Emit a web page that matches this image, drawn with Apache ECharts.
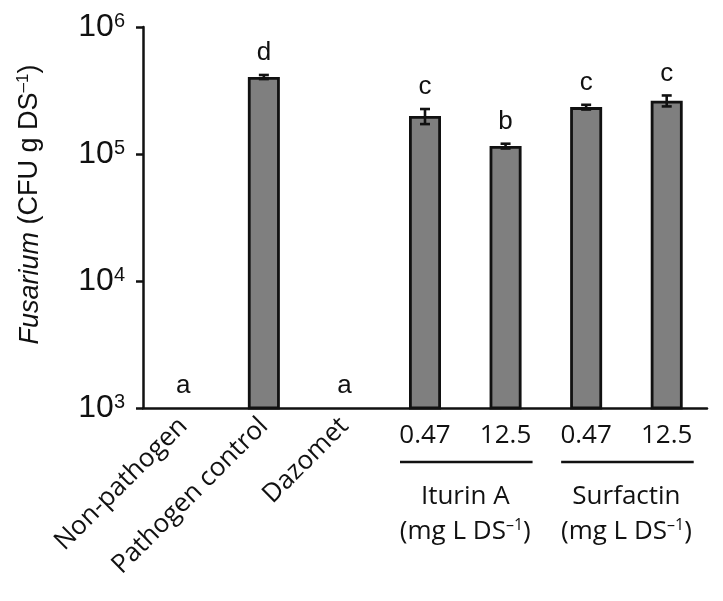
<!DOCTYPE html>
<html><head><meta charset="utf-8">
<script src="https://cdn.jsdelivr.net/npm/echarts@6/dist/echarts.min.js"></script>
<style>html,body{margin:0;padding:0;background:#fff}#c{width:723px;height:601px}</style>
</head><body><div id="c"></div>
<script>
// ---- data ----
const categories = ['Non-pathogen', 'Pathogen control', 'Dazomet', 'Iturin A 0.47', 'Iturin A 12.5', 'Surfactin 0.47', 'Surfactin 12.5'];
const rotatedLabels = ['Non-pathogen', 'Pathogen control', 'Dazomet', '', '', '', ''];
const doseLabels = ['', '', '', '0.47', '12.5', '0.47', '12.5'];
const means = [null, 404000, null, 199000, 115500, 234000, 263000];
const errors = [null, 15000, null, 27000, 5000, 10000, 26000];
const letters = ['a', 'd', 'a', 'c', 'b', 'c', 'c'];
const groupNames = ['Iturin A', 'Surfactin'];
const groupFirst = [3, 5];
const groupLast = [4, 6];
const yMin = 1e3, yMax = 1e6;

const SANS = 'Liberation Sans';
const CAL = 'Open Sans';
const INK = '#111111';

const chart = echarts.init(document.getElementById('c'), null, {renderer: 'canvas'});

const errData = [];
means.forEach((m, i) => { if (m != null) errData.push([i, m, errors[i]]); });
const letterData = letters.map((l, i) => [i, means[i] == null ? yMin : means[i] + errors[i]]);

const option = {
  animation: false,
  backgroundColor: '#fff',
  grid: {left: 143, right: 16, top: 27, bottom: 193},
  xAxis: [{
    type: 'category', data: categories,
    axisLine: {lineStyle: {color: INK, width: 2.5}},
    axisTick: {show: false},
    axisLabel: {rotate: 45, margin: 14, interval: 0, formatter: (v, i) => rotatedLabels[i],
      fontFamily: CAL, fontSize: 26, color: INK}
  }, {
    type: 'category', data: categories, position: 'bottom',
    axisLine: {show: false}, axisTick: {show: false}, splitLine: {show: false},
    axisLabel: {interval: 0, margin: 15, formatter: (v, i) => doseLabels[i],
      fontFamily: CAL, fontSize: 26, color: INK}
  }],
  yAxis: {
    type: 'log', logBase: 10, min: yMin, max: yMax,
    splitLine: {show: false},
    axisLine: {show: true, lineStyle: {color: INK, width: 2.5}},
    axisTick: {show: true, length: 7, lineStyle: {width: 2.5, color: INK}},
    minorTick: {show: false},
    axisLabel: {
      margin: 18,
      fontSize: 32, fontFamily: SANS, color: INK, lineHeight: 32,
      formatter: v => '10{s|' + Math.round(Math.log10(v)) + '}',
      rich: {
        s: {fontSize: 20, fontFamily: SANS, color: INK, verticalAlign: 'top', lineHeight: 20}
      }
    },
    name: '{i|Fusarium}{n| (CFU g DS}{s|–1}{n|)}',
    nameLocation: 'middle', nameGap: 98,
    nameTextStyle: {
      padding: [0, 0, 0, 26],
      rich: {
        i: {fontSize: 27, fontFamily: SANS, fontStyle: 'italic', color: INK, lineHeight: 30},
        n: {fontSize: 27, fontFamily: SANS, color: INK, lineHeight: 30},
        s: {fontSize: 17, fontFamily: SANS, color: INK, verticalAlign: 'top', lineHeight: 17}
      }
    }
  },
  series: [{
    type: 'bar', data: means, barWidth: 32,
    itemStyle: {color: '#7f7f7f', borderColor: INK, borderWidth: 2.8}
  }, {
    type: 'custom', data: errData, z: 5,
    renderItem: (params, api) => {
      const i = api.value(0), m = api.value(1), e = api.value(2);
      const top = api.coord([i, m + e]);
      const bot = api.coord([i, m - e]);
      const x = top[0], h = 5;
      const st = {stroke: INK, lineWidth: 2.6};
      return {type: 'group', children: [
        {type: 'line', shape: {x1: x, y1: top[1], x2: x, y2: bot[1]}, style: st},
        {type: 'line', shape: {x1: x - h, y1: top[1], x2: x + h, y2: top[1]}, style: st},
        {type: 'line', shape: {x1: x - h, y1: bot[1], x2: x + h, y2: bot[1]}, style: st}
      ]};
    }
  }, {
    type: 'scatter', data: letterData, symbolSize: 0, z: 6,
    itemStyle: {opacity: 1},
    label: {show: true, position: 'top', distance: 9, formatter: p => letters[p.dataIndex],
      fontFamily: SANS, fontSize: 26, color: INK, opacity: 1}
  }]
};
chart.setOption(option);

const gfx = [];
const richSub = {
  n: {fontSize: 26, fontFamily: CAL, fill: INK, lineHeight: 30},
  s: {fontSize: 16, fontFamily: CAL, fill: INK, verticalAlign: 'top', lineHeight: 16}
};
groupNames.forEach((name, g) => {
  const a = chart.convertToPixel({gridIndex: 0}, [groupFirst[g], yMin]);
  const b = chart.convertToPixel({gridIndex: 0}, [groupLast[g], yMin]);
  const base = a[1];
  const mid = (a[0] + b[0]) / 2;
  gfx.push({type: 'line', shape: {x1: a[0] - 25, y1: base + 54, x2: b[0] + 27, y2: base + 54},
    style: {stroke: INK, lineWidth: 2.5}});
  gfx.push({type: 'text', x: mid, y: base + 89, style: {text: name, fontSize: 26, fontFamily: CAL,
    fill: INK, align: 'center', verticalAlign: 'middle'}});
  gfx.push({type: 'text', x: mid, y: base + 124, style: {text: '{n|(mg L DS}{s|–1}{n|)}', rich: richSub,
    align: 'center', verticalAlign: 'middle'}});
});
chart.setOption({graphic: gfx});
</script></body></html>
